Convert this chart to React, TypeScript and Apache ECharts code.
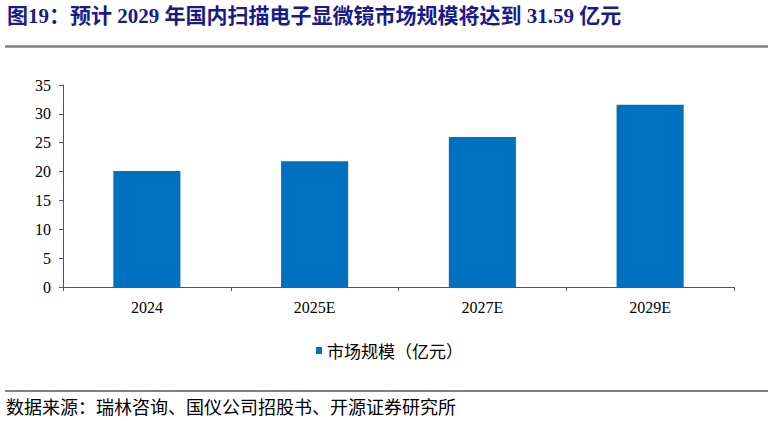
import React, { useEffect, useRef } from 'react';
import * as echarts from 'echarts';

// market size of scanning electron microscopes in China (亿元)
const categories = ['2024', '2025E', '2027E', '2029E'];
const marketSize = [20.1, 21.8, 26.0, 31.59];
const seriesName = '市场规模（亿元）';

const titleText = '图19：预计 2029 年国内扫描电子显微镜市场规模将达到 31.59 亿元';
const sourceText = '数据来源：瑞林咨询、国仪公司招股书、开源证券研究所';

const serif = "'Liberation Serif', 'Times New Roman', 'Noto Sans CJK SC', serif";
const cjk = "'Noto Sans CJK SC', sans-serif";

export default function App() {
  const chartRef = useRef<HTMLDivElement>(null);

  useEffect(() => {
    document.body.style.margin = '0';
    if (!chartRef.current) return;

    const chart = echarts.init(chartRef.current, undefined, { renderer: 'svg' });

    const option: echarts.EChartsOption = {
      animation: false,
      backgroundColor: '#fff',
      grid: {
        left: 63,
        right: 40,
        top: 85,
        bottom: 134
      },
      legend: {
        data: [seriesName],
        left: 311,
        top: 337,
        icon: 'rect',
        itemWidth: 6,
        itemHeight: 7,
        textStyle: {
          fontFamily: cjk,
          fontSize: 17,
          color: '#000'
        }
      },
      xAxis: {
        type: 'category',
        data: categories,
        axisLine: { lineStyle: { color: '#555', width: 1 } },
        axisTick: { show: true, length: 4, lineStyle: { color: '#555' } },
        axisLabel: {
          fontFamily: serif,
          fontSize: 16,
          color: '#000',
          margin: 12
        }
      },
      yAxis: {
        type: 'value',
        min: 0,
        max: 35,
        interval: 5,
        splitLine: { show: false },
        axisLine: { show: true, lineStyle: { color: '#555', width: 1 } },
        axisTick: { show: true, length: 4, lineStyle: { color: '#555' } },
        axisLabel: {
          fontFamily: serif,
          fontSize: 16,
          color: '#000',
          margin: 12
        }
      },
      series: [
        {
          name: seriesName,
          type: 'bar',
          data: marketSize,
          barWidth: '40%',
          itemStyle: { color: '#0070c0' }
        }
      ],
      graphic: [
        {
          type: 'text',
          left: 7,
          top: 5,
          style: {
            text: titleText,
            fontFamily: serif,
            fontSize: 21,
            fontWeight: 'bold',
            fill: '#1a1a8c'
          }
        },
        {
          type: 'line',
          shape: { x1: 5, y1: 46.5, x2: 768, y2: 46.5 },
          style: { stroke: '#808080', lineWidth: 2.5 }
        },
        {
          type: 'line',
          shape: { x1: 5, y1: 391, x2: 768, y2: 391 },
          style: { stroke: '#808080', lineWidth: 2 }
        },
        {
          type: 'text',
          left: 6,
          top: 397,
          style: {
            text: sourceText,
            fontFamily: cjk,
            fontSize: 18,
            fill: '#000'
          }
        }
      ]
    };

    chart.setOption(option);

    return () => {
      chart.dispose();
    };
  }, []);

  return <div ref={chartRef} style={{ width: '774px', height: '421px' }} />;
}
